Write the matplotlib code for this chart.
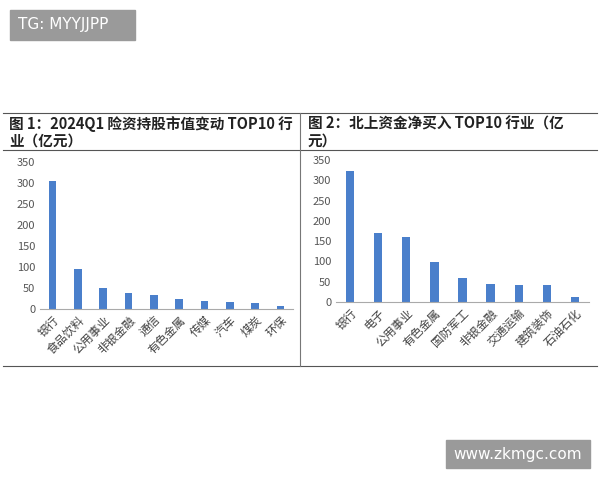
import matplotlib
matplotlib.use("Agg")
import matplotlib.pyplot as plt
from matplotlib.patches import Rectangle
from matplotlib.lines import Line2D

plt.rcParams['font.family'] = ['Noto Sans CJK SC', 'DejaVu Sans']

left_cats = ["银行", "食品饮料", "公用事业", "非银金融", "通信", "有色金属", "传媒", "汽车", "煤炭", "环保"]
left_vals = [304, 95, 49, 37, 33, 25, 18, 17, 14, 7]
right_cats = ["银行", "电子", "公用事业", "有色金属", "国防军工", "非银金融", "交通运输", "建筑装饰", "石油石化"]
right_vals = [322, 170, 161, 98, 60, 44, 41, 41, 12]
yticks = [0, 50, 100, 150, 200, 250, 300, 350]

W, H = 600, 480
fig = plt.figure(figsize=(6, 4.8), dpi=100)

def fx(x): return x / W
def fy(y): return 1 - y / H

for y in (113, 150, 366):
    fig.add_artist(Line2D([fx(3), fx(597)], [fy(y), fy(y)], color="#555555", lw=0.8))
fig.add_artist(Line2D([fx(300), fx(300)], [fy(113), fy(366)], color="#777777", lw=0.8))

tkw = dict(fontsize=10.5, va="center", color="#222222", fontweight="bold")
fig.text(fx(9), fy(124), "图 1：2024Q1 险资持股市值变动 TOP10 行", **tkw)
fig.text(fx(9), fy(141), "业（亿元）", **tkw)
fig.text(fx(308), fy(124), "图 2：北上资金净买入 TOP10 行业（亿", **tkw)
fig.text(fx(308), fy(141), "元）", **tkw)

def panel(x0, x1, y0, y350, cats, vals):
    ax = fig.add_axes([fx(x0), fy(y0), fx(x1 - x0), (y0 - y350) / H])
    ax.bar(range(len(cats)), vals, width=0.3, color="#4a7fcb")
    ax.set_ylim(0, 350)
    ax.set_xlim(-0.5, len(cats) - 0.5)
    ax.set_yticks(yticks)
    ax.set_xticks(range(len(cats)))
    ax.set_xticklabels(cats, rotation=45, ha="right", rotation_mode="anchor", fontsize=8.5, color="#444444")
    ax.tick_params(axis="y", labelsize=8, colors="#555555", length=0)
    ax.tick_params(axis="x", length=0)
    for s in ("top", "right", "left"):
        ax.spines[s].set_visible(False)
    ax.spines["bottom"].set_color("#aaaaaa")
    return ax

panel(40, 293, 309, 162, left_cats, left_vals)
panel(336, 589, 302, 160, right_cats, right_vals)

fig.add_artist(Rectangle((fx(10), fy(40)), fx(125), 30 / H, color="#9a9a9a"))
fig.text(fx(18), fy(25), "TG: MYYJJPP", fontsize=11, color="white", va="center",
         family=["DejaVu Sans"])
fig.add_artist(Rectangle((fx(446), fy(468)), fx(144), 28 / H, color="#9a9a9a"))
fig.text(fx(518), fy(454), "www.zkmgc.com", fontsize=11, color="white", va="center", ha="center",
         family=["DejaVu Sans"])

fig.savefig("out.png", dpi=100)
